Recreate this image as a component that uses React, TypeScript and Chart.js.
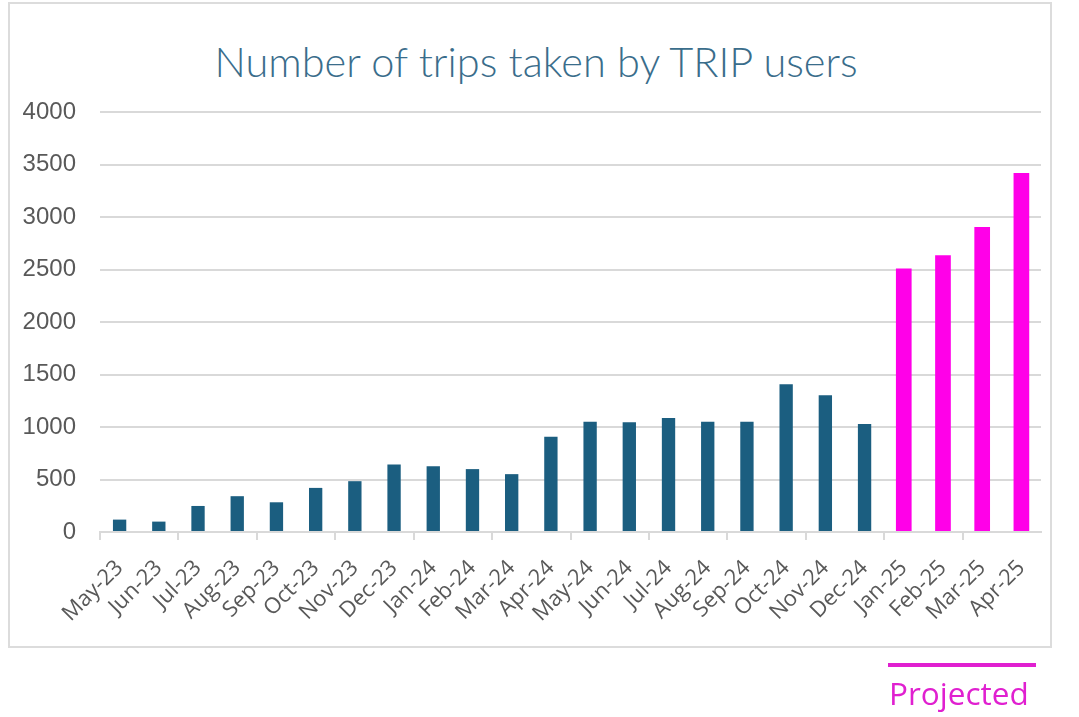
import React, { useEffect, useRef } from "react";
import { Chart, registerables } from "chart.js";

Chart.register(...registerables);

const monthLabels: string[] = [
  "May-23", "Jun-23", "Jul-23", "Aug-23", "Sep-23", "Oct-23", "Nov-23", "Dec-23",
  "Jan-24", "Feb-24", "Mar-24", "Apr-24", "May-24", "Jun-24", "Jul-24", "Aug-24",
  "Sep-24", "Oct-24", "Nov-24", "Dec-24", "Jan-25", "Feb-25", "Mar-25", "Apr-25",
];

const actualTrips: number[] = [
  118, 99, 248, 341, 283, 420, 484, 643, 627, 599, 551, 907,
  1051, 1045, 1086, 1051, 1051, 1408, 1303, 1029,
];

const projectedTrips: number[] = [2510, 2635, 2905, 3420];

const yTickValues: number[] = [0, 500, 1000, 1500, 2000, 2500, 3000, 3500, 4000];

const titleText = "Number of trips taken by TRIP users";
const projectedLabel = "Projected";

const BLUE = "#1b5e80";
const PINK = "#ff00e8";
const GRID = "#d9d9d9";
const TICK_TEXT = "#595959";

export default function App() {
  const canvasRef = useRef<HTMLCanvasElement | null>(null);

  useEffect(() => {
    if (!canvasRef.current) return;
    const nA = actualTrips.length;
    const actualData = monthLabels.map((_, i) => (i < nA ? actualTrips[i] : null));
    const projData = monthLabels.map((_, i) => (i >= nA ? projectedTrips[i - nA] : null));

    const chart = new Chart(canvasRef.current, {
      type: "bar",
      data: {
        labels: monthLabels,
        datasets: [
          {
            label: "Actual",
            data: actualData,
            backgroundColor: BLUE,
            barPercentage: 0.34,
            categoryPercentage: 1,
            grouped: false,
          } as any,
          {
            label: "Projected",
            data: projData,
            backgroundColor: PINK,
            barPercentage: 0.4,
            categoryPercentage: 1,
            grouped: false,
          } as any,
        ],
      },
      options: {
        responsive: false,
        animation: false,
        layout: { padding: { left: 0, right: 38, top: 112, bottom: 0 } },
        plugins: {
          legend: { display: false },
          title: { display: false },
          tooltip: { enabled: false },
        },
        scales: {
          x: {
            offset: true,
            grid: {
              offset: true,
              drawOnChartArea: false,
              drawTicks: true,
              tickLength: 8,
              lineWidth: 2,
              color: (ctx: any) => (ctx.index % 2 === 0 ? GRID : "rgba(0,0,0,0)"),
            },
            border: { display: true, color: GRID, width: 2 },
            ticks: {
              autoSkip: false,
              minRotation: 45,
              maxRotation: 45,
              padding: 15,
              color: TICK_TEXT,
              font: { family: "'Open Sans', 'Noto Sans', sans-serif", size: 22 },
            },
            afterFit: (scale: any) => {
              scale.height = 185;
            },
          },
          y: {
            min: 0,
            max: 4000,
            afterBuildTicks: (scale: any) => {
              scale.ticks = yTickValues.map((v) => ({ value: v }));
            },
            grid: { color: GRID, lineWidth: 2, drawTicks: false },
            border: { display: false },
            ticks: {
              padding: 24,
              color: TICK_TEXT,
              font: { family: "'Liberation Sans', Arial, sans-serif", size: 24 },
              callback: (v: any) => String(v),
            },
            afterFit: (scale: any) => {
              scale.width = 100;
            },
          },
        },
      },
    });
    return () => chart.destroy();
  }, []);

  return (
    <div
      style={{
        position: "fixed",
        left: 0,
        top: 0,
        width: 1079,
        height: 717,
        background: "#ffffff",
        overflow: "hidden",
      }}
    >
      <div
        style={{
          position: "absolute",
          left: 8,
          top: 2,
          width: 1040,
          height: 642,
          border: "2px solid #dcdcdc",
        }}
      />
      <div
        style={{
          position: "absolute",
          left: 0,
          top: 34,
          width: 1072,
          textAlign: "center",
          fontFamily: "Lato, 'Open Sans', sans-serif",
          fontWeight: 300,
          fontSize: 41.5,
          lineHeight: "54px",
          color: "#3a6d8b",
          whiteSpace: "nowrap",
        }}
      >
        {titleText}
      </div>
      <canvas
        ref={canvasRef}
        width={1079}
        height={717}
        style={{ position: "absolute", left: 0, top: 0, width: 1079, height: 717 }}
      />
      <div
        style={{
          position: "absolute",
          left: 888,
          top: 663,
          width: 148,
          height: 4,
          background: "#e020d0",
        }}
      />
      <div
        style={{
          position: "absolute",
          left: 889,
          top: 673,
          fontFamily: "'Open Sans', 'Noto Sans', sans-serif",
          fontSize: 31.5,
          lineHeight: "40px",
          color: "#e020d0",
          whiteSpace: "nowrap",
        }}
      >
        {projectedLabel}
      </div>
    </div>
  );
}
